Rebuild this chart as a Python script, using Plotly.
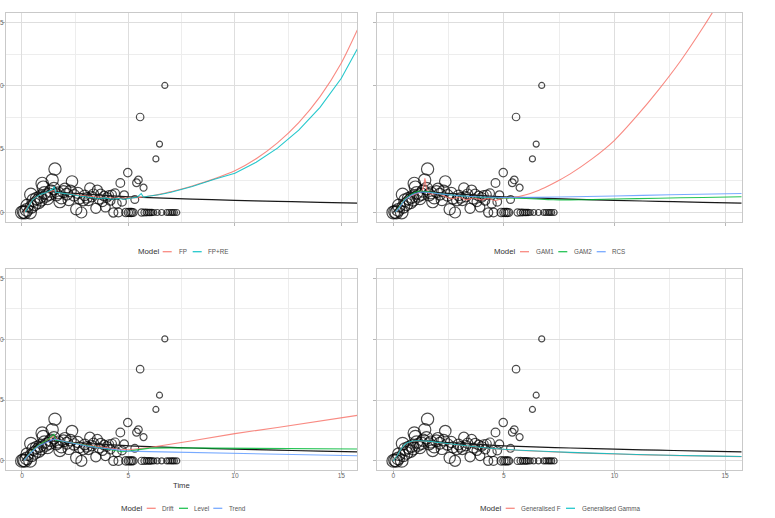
import plotly.graph_objects as go

W, H = 775, 518
FONT = "Liberation Sans, Arial, sans-serif"

# ---------------- observed data (time, rate, number at risk) ----------------
obs_time = [0.00, 0.08, 0.14, 0.22, 0.25, 0.38, 0.42, 0.45, 0.53, 0.60, 0.69, 0.78, 0.85, 0.90,
            0.95, 1.00, 1.05, 1.12, 1.20, 1.28, 1.35, 1.42, 1.50, 1.55, 1.62, 1.70, 1.78, 1.85,
            1.95, 2.02, 2.10, 2.20, 2.28, 2.35, 2.45, 2.55, 2.62, 2.70, 2.79, 2.88, 2.95, 3.05,
            3.12, 3.19, 3.28, 3.36, 3.47, 3.54, 3.62, 3.70, 3.78, 3.86, 3.92, 4.00, 4.08, 4.15,
            4.22, 4.29, 4.37, 4.45, 4.53, 4.62, 4.70, 4.80, 4.88, 4.97, 5.00, 5.08, 5.15, 5.22,
            5.30, 5.38, 5.47, 5.55, 5.62, 5.71, 5.75, 5.85, 5.95, 6.02, 6.10, 6.19, 6.29, 6.35,
            6.46, 6.56, 6.71, 6.80, 6.90, 7.00, 7.08, 7.16, 7.27]
obs_rate = [0.00, 0.05, 0.00, 0.20, 0.55, 0.00, 1.42, 0.45, 0.97, 0.65, 1.10, 0.80, 1.23, 1.00,
            2.29, 2.00, 1.55, 1.30, 1.10, 1.45, 1.70, 2.56, 1.90, 3.43, 1.40, 1.55, 0.85, 1.15,
            1.65, 1.85, 1.45, 1.00, 1.70, 2.45, 1.35, 0.25, 1.55, 1.10, 0.00, 0.95, 1.35, 1.15,
            0.95, 1.93, 1.25, 1.45, 0.33, 1.77, 1.05, 1.45, 0.85, 1.30, 0.42, 1.20, 1.35, 0.95,
            1.40, 0.00, 1.51, 0.70, 0.00, 2.33, 0.85, 1.38, 0.00, 3.15, 0.00, 0.00, 0.00, 0.00,
            1.03, 2.35, 2.57, 7.54, 0.00, 1.96, 0.00, 0.00, 0.00, 0.00, 0.00, 0.00, 4.23, 0.00,
            5.40, 0.00, 10.03, 0.00, 0.00, 0.00, 0.00, 0.00, 0.00]
obs_n = [900, 900, 900, 890, 890, 880, 880, 880, 870, 870, 870, 860, 860, 860,
         860, 850, 850, 850, 840, 840, 840, 830, 830, 830, 820, 810, 800, 790,
         780, 770, 760, 750, 740, 730, 720, 700, 690, 680, 670, 650, 640, 620,
         610, 600, 590, 580, 570, 560, 550, 540, 530, 520, 510, 500, 490, 480,
         470, 460, 450, 440, 430, 420, 410, 400, 400, 390, 380, 370, 360, 350,
         340, 330, 320, 312, 290, 270, 260, 245, 235, 225, 215, 200, 185, 180,
         170, 160, 150, 145, 140, 135, 130, 125, 120]

# ---------------- reference (black) curve ----------------
ref_time = [0.0, 0.2, 0.4, 0.6, 0.8, 1.0, 1.3, 1.6, 2.0, 3.0, 4.0, 5.0, 6.0, 8.0, 10.0, 12.0, 14.0, 15.75]
ref_rate = [0.0, 0.45, 1.0, 1.35, 1.55, 1.62, 1.65, 1.62, 1.57, 1.45, 1.33, 1.24, 1.17, 1.06, 0.96, 0.88, 0.80, 0.74]

# ---------------- panel 1: FP, FP+RE ----------------
fp_time = [0.1, 0.3, 0.5, 0.8, 1.0, 1.2, 1.4, 1.5, 1.6, 2.0, 2.5, 3.0, 3.5, 4.0, 4.5, 5.0, 5.5, 6.0,
           6.5, 7.0, 7.5, 8.0, 9.0, 10.0, 11.0, 12.0, 13.0, 14.0, 15.0, 15.75]
fp_rate = [0.05, 0.5, 1.0, 1.35, 1.5, 1.6, 1.7, 1.75, 1.6, 1.5, 1.4, 1.3, 1.22, 1.17, 1.14, 1.14, 1.18, 1.3,
           1.45, 1.65, 1.85, 2.1, 2.65, 3.3, 4.25, 5.5, 7.1, 9.15, 11.8, 14.4]
fpre_time = [0.15, 0.3, 0.5, 0.7, 0.9, 1.1, 1.3, 1.45, 1.52, 1.58, 1.8, 2.1, 2.4, 2.7, 3.0, 3.3, 3.6, 3.9,
             4.2, 4.5, 4.8, 5.1, 5.4, 5.6, 5.7, 6.0, 6.5, 7.0, 7.5, 8.0, 9.0, 10.0, 11.0, 12.0, 13.0,
             14.0, 15.0, 15.75]
fpre_rate = [0.05, 0.45, 1.0, 1.25, 1.45, 1.55, 1.7, 1.85, 2.05, 1.6, 1.55, 1.5, 1.4, 1.3, 1.25, 1.2, 1.1, 1.15,
             1.05, 1.1, 1.05, 1.12, 1.2, 1.5, 1.22, 1.3, 1.42, 1.6, 1.8, 2.05, 2.6, 3.1, 3.97, 5.08, 6.5,
             8.3, 10.6, 12.9]

# ---------------- panel 2: GAM1, GAM2, RCS ----------------
gam1_time = [0.1, 0.3, 0.5, 0.8, 1.0, 1.2, 1.35, 1.43, 1.5, 1.6, 1.8, 2.0, 2.3, 2.6, 3.0, 3.3, 3.6, 4.0,
             4.3, 4.6, 5.0, 5.5, 6.0, 6.5, 7.0, 7.5, 8.0, 9.0, 10.0, 11.0, 12.0, 13.0, 14.0, 15.0]
gam1_rate = [0.05, 0.5, 1.0, 1.3, 1.45, 1.6, 1.9, 2.7, 1.9, 1.5, 1.45, 1.5, 1.3, 1.1, 1.2, 1.0, 1.15, 1.0,
             1.1, 0.95, 1.15, 1.2, 1.4, 1.7, 2.1, 2.55, 3.05, 4.25, 5.7, 7.6, 9.7, 12.0, 14.6, 17.4]
gam2_time = [0.1, 0.3, 0.5, 0.8, 1.0, 1.2, 1.5, 2.0, 2.5, 3.0, 4.0, 5.0, 6.0, 7.0, 7.5, 8.0, 9.0, 10.0,
             12.0, 14.0, 15.75]
gam2_rate = [0.05, 0.5, 1.0, 1.4, 1.6, 1.7, 1.65, 1.5, 1.4, 1.32, 1.2, 1.15, 1.1, 1.02, 1.0, 1.0, 1.02, 1.06,
             1.13, 1.19, 1.24]
rcs_time = [0.1, 0.3, 0.5, 0.8, 1.0, 1.2, 1.5, 2.0, 2.5, 3.0, 4.0, 5.0, 7.5, 10.0, 12.5, 15.75]
rcs_rate = [0.05, 0.45, 0.95, 1.35, 1.5, 1.6, 1.6, 1.5, 1.4, 1.32, 1.22, 1.18, 1.22, 1.3, 1.4, 1.5]

# ---------------- panel 3: Drift, Level, Trend ----------------
drift_time = [0.1, 0.4, 0.8, 1.2, 1.5, 1.7, 2.0, 2.5, 3.0, 3.5, 4.0, 4.5, 5.0, 5.5, 6.0, 8.0, 10.0,
              12.0, 14.0, 15.75]
drift_rate = [0.05, 0.7, 1.3, 1.7, 2.05, 1.7, 1.6, 1.45, 1.3, 1.2, 1.05, 0.95, 0.92, 1.0, 1.1, 1.65, 2.24,
              2.75, 3.25, 3.74]
level_time = [0.1, 0.4, 0.8, 1.2, 1.5, 1.6, 2.0, 2.5, 3.0, 3.5, 4.0, 4.5, 4.7, 5.0, 5.5, 6.0, 7.0, 8.0,
              10.0, 12.0, 15.75]
level_rate = [0.05, 0.7, 1.3, 1.75, 2.2, 1.7, 1.6, 1.45, 1.3, 1.15, 1.0, 0.85, 0.75, 0.8, 0.95, 1.05, 1.07,
              1.06, 1.02, 1.0, 0.98]
trend_time = [0.1, 0.4, 0.8, 1.2, 1.5, 2.0, 2.5, 3.0, 3.5, 4.0, 4.5, 5.0, 6.0, 7.5, 10.0, 12.5, 15.75]
trend_rate = [0.05, 0.65, 1.25, 1.6, 1.8, 1.6, 1.4, 1.25, 1.1, 0.98, 0.88, 0.8, 0.76, 0.7, 0.6, 0.51, 0.42]

# ---------------- panel 4: Generalised F, Generalised Gamma ----------------
genf_time = [0.0, 0.2, 0.4, 0.6, 0.8, 1.0, 1.5, 2.0, 3.0, 4.0, 5.0, 6.0, 8.0, 10.0, 12.0, 14.0, 15.75]
genf_rate = [0.0, 0.5, 1.08, 1.42, 1.58, 1.63, 1.6, 1.5, 1.28, 1.08, 0.93, 0.83, 0.68, 0.56, 0.47, 0.4, 0.35]
gg_time = [0.0, 0.2, 0.4, 0.6, 0.8, 1.0, 1.5, 2.0, 3.0, 4.0, 5.0, 6.0, 8.0, 10.0, 12.0, 14.0, 15.75]
gg_rate = [0.0, 0.5, 1.1, 1.45, 1.6, 1.65, 1.62, 1.52, 1.3, 1.1, 0.95, 0.85, 0.7, 0.58, 0.48, 0.41, 0.36]

# ---------------- model sets per panel ----------------
HUE2 = ["#F8766D", "#00BFC4"]
HUE3 = ["#F8766D", "#00BA38", "#619CFF"]
panel_models = {
    1: [("FP", fp_time, fp_rate, "spline"), ("FP+RE", fpre_time, fpre_rate, "linear")],
    2: [("GAM1", gam1_time, gam1_rate, "spline"), ("GAM2", gam2_time, gam2_rate, "spline"),
        ("RCS", rcs_time, rcs_rate, "spline")],
    3: [("Drift", drift_time, drift_rate, "linear"), ("Level", level_time, level_rate, "linear"),
        ("Trend", trend_time, trend_rate, "linear")],
    4: [("Generalised F", genf_time, genf_rate, "spline"),
        ("Generalised Gamma", gg_time, gg_rate, "spline")],
}

# ---------------- layout geometry (pixels) ----------------
panel_box = {
    1: ((6, 357.3), (13, 222)),
    2: ((376.7, 741.7), (13, 222)),
    3: ((6, 357.3), (269.3, 470)),
    4: ((376.7, 741.7), (269.3, 470)),
}

BORDER = "#c9c9c9"
MAJ = "#dedede"
MIN = "#ededed"
TICK = "#b8b8b8"

fig = go.Figure()

for p in range(1, 5):
    xa = "x" if p == 1 else f"x{p}"
    ya = "y" if p == 1 else f"y{p}"
    models = panel_models[p]
    cols = HUE2 if len(models) == 2 else HUE3
    fig.add_trace(go.Scatter(
        x=obs_time, y=obs_rate, mode="markers", xaxis=xa, yaxis=ya, showlegend=False,
        marker=dict(symbol="circle-open", color="black", size=obs_n, sizemode="area",
                    sizeref=11.1, sizemin=3, line=dict(width=1.2)),
        hoverinfo="skip"))
    fig.add_trace(go.Scatter(
        x=ref_time, y=ref_rate, mode="lines", xaxis=xa, yaxis=ya, showlegend=False,
        line=dict(color="#1a1a1a", width=1.2, shape="spline")))
    for (name, t, r, shape), c in zip(models, cols):
        line = dict(color=c, width=1.1, shape=shape)
        if shape == "spline":
            line["smoothing"] = 0.7
        fig.add_trace(go.Scatter(
            x=t, y=r, mode="lines", xaxis=xa, yaxis=ya, name=name, showlegend=False,
            line=line, opacity=0.85))

    (x0, x1), (y0, y1) = panel_box[p]
    axis_common = dict(
        showgrid=True, gridcolor=MAJ, gridwidth=0.8, zeroline=False,
        showline=True, linecolor=BORDER, linewidth=1, mirror=True,
        ticks="outside", ticklen=3, tickcolor=TICK, tickwidth=0.8,
        tickfont=dict(size=6.6, color="#6b6b6b", family=FONT),
        minor=dict(tickvals=[2.5, 7.5, 12.5], showgrid=True, gridcolor=MIN, gridwidth=0.6, ticks=""),
        tickvals=[0, 5, 10, 15], ticktext=["0", "5", "10", "15"],
        automargin=False, fixedrange=True,
    )
    fig.layout[f"xaxis{'' if p == 1 else p}"] = dict(
        axis_common, domain=[x0 / W, x1 / W], range=[-0.75, 15.75], anchor=ya,
        showticklabels=(p >= 3), ticklabelstandoff=-4)
    fig.layout[f"yaxis{'' if p == 1 else p}"] = dict(
        axis_common, domain=[1 - y1 / H, 1 - y0 / H], range=[-0.75, 15.75], anchor=xa,
        showticklabels=(p in (1, 3)), ticklabelstandoff=-3)

# ---------------- manual legends (ggplot-style, below each panel) ----------------
legend_layout = {
    1: (251.7, 136.7, [(162.7, 177.7), (192.7, 206.7)]),
    2: (251.7, 493.3, [(520, 535), (558.3, 573.3), (596.7, 611)]),
    3: (508.3, 120.0, [(146.7, 161), (179, 193.3), (213.3, 228.3)]),
    4: (508.3, 479.0, [(505.7, 520), (566, 580.7)]),
}
annotations = []
shapes = []
for p, (ly, tx, items) in legend_layout.items():
    models = panel_models[p]
    cols = HUE2 if len(models) == 2 else HUE3
    annotations.append(dict(text="Model", x=tx / W, y=1 - ly / H, xref="paper", yref="paper",
                            xanchor="left", yanchor="middle", showarrow=False, borderpad=0,
                            font=dict(size=7.8, color="#333333", family=FONT)))
    for (sx, lx), (name, *_), c in zip(items, models, cols):
        shapes.append(dict(type="line", xref="paper", yref="paper", x0=sx / W, x1=(sx + 9) / W,
                           y0=1 - ly / H, y1=1 - ly / H, line=dict(color=c, width=1.3), opacity=0.85))
        annotations.append(dict(text=name, x=lx / W, y=1 - ly / H, xref="paper", yref="paper",
                                xanchor="left", yanchor="middle", showarrow=False, borderpad=0,
                                font=dict(size=6.3, color="#555555", family=FONT)))

annotations.append(dict(text="Time", x=181.7 / W, y=1 - 485.7 / H, xref="paper", yref="paper",
                        xanchor="center", yanchor="middle", showarrow=False, borderpad=0,
                        font=dict(size=7.7, color="#333333", family=FONT)))

fig.update_layout(
    width=W, height=H, margin=dict(l=0, r=0, t=0, b=0),
    paper_bgcolor="white", plot_bgcolor="white",
    showlegend=False, annotations=annotations, shapes=shapes,
    font=dict(family=FONT),
)

fig.write_html("out.html")
